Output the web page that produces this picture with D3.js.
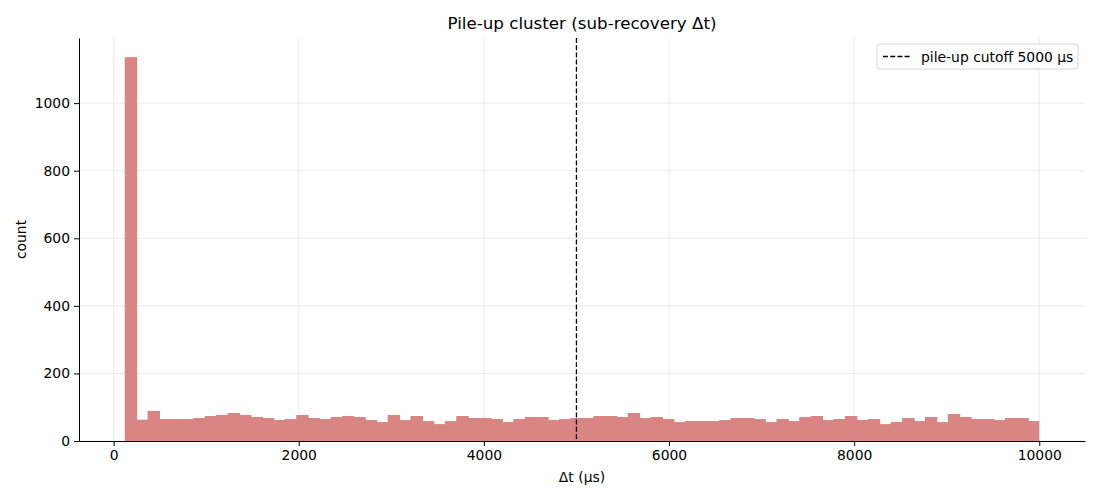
<!DOCTYPE html>
<html>
<head>
<meta charset="utf-8">
<script src="https://cdn.jsdelivr.net/npm/d3@7"></script>
<style>
  body { margin: 0; background: #fff; }
  svg { font-family: "DejaVu Sans", sans-serif; }
</style>
</head>
<body>
<svg id="chart" width="1100" height="500"></svg>
<script>
// histogram of sub-recovery intervals, 80 equal bins
const binMin = 120;
const binMax = 10000;
const counts = [
  1136, 63, 89, 65, 65, 65, 68, 74, 77, 83,
  77, 71, 68, 62, 65, 77, 68, 65, 71, 74,
  71, 62, 56, 77, 62, 74, 59, 50, 59, 74,
  68, 68, 65, 56, 65, 71, 71, 62, 65, 68,
  68, 74, 74, 71, 83, 68, 71, 65, 56, 59,
  59, 59, 62, 68, 68, 65, 56, 65, 59, 71,
  74, 62, 65, 74, 62, 65, 50, 56, 68, 59,
  71, 56, 80, 71, 65, 65, 62, 68, 68, 59
];
const xTicks = [0, 2000, 4000, 6000, 8000, 10000];
const yTicks = [0, 200, 400, 600, 800, 1000];
const cutoff = 5000;
const cutoffLabel = "pile-up cutoff 5000 µs";

const margin = { top: 38, right: 15, bottom: 59, left: 79 };
const svg = d3.select("#chart");
const width = +svg.attr("width");
const height = +svg.attr("height");
const innerWidth = width - margin.left - margin.right;
const innerHeight = height - margin.top - margin.bottom;
const g = svg.append("g")
  .attr("transform", `translate(${margin.left},${margin.top})`);

const binW = (binMax - binMin) / counts.length;
const bins = counts.map((c, i) => ({
  x0: binMin + i * binW,
  x1: binMin + (i + 1) * binW,
  count: c,
  last: i === counts.length - 1
}));

// matplotlib-style 5% padding
const padX = (binMax - binMin) * 0.05;
const x = d3.scaleLinear()
  .domain([binMin - padX, binMax + padX])
  .range([0, innerWidth]);
const y = d3.scaleLinear()
  .domain([0, d3.max(counts) * 1.05])
  .range([innerHeight, 0]);

// grid
g.append("g")
  .selectAll("line")
  .data(xTicks)
  .join("line")
  .attr("x1", d => x(d)).attr("x2", d => x(d))
  .attr("y1", 0).attr("y2", innerHeight)
  .attr("stroke", "#b0b0b0").attr("stroke-opacity", 0.3).attr("stroke-width", 0.8);
g.append("g")
  .selectAll("line")
  .data(yTicks)
  .join("line")
  .attr("x1", 0).attr("x2", innerWidth)
  .attr("y1", d => y(d)).attr("y2", d => y(d))
  .attr("stroke", "#b0b0b0").attr("stroke-opacity", 0.3).attr("stroke-width", 0.8);

// bars (overlap by 1px so no seams show)
g.append("g")
  .selectAll("rect")
  .data(bins)
  .join("rect")
  .attr("x", d => x(d.x0))
  .attr("width", d => x(d.x1) - x(d.x0) + (d.last ? 0 : 1))
  .attr("y", d => y(d.count))
  .attr("height", d => y(0) - y(d.count))
  .attr("fill", "#d98583");

// cutoff line
g.append("line")
  .attr("x1", x(cutoff)).attr("x2", x(cutoff))
  .attr("y1", 0).attr("y2", innerHeight)
  .attr("stroke", "#000").attr("stroke-width", 1.3)
  .attr("stroke-dasharray", "5,2.2");

// axes
const xAxis = g.append("g")
  .attr("transform", `translate(0,${innerHeight})`)
  .call(d3.axisBottom(x).tickValues(xTicks).tickFormat(d3.format("d")).tickSizeInner(5).tickSizeOuter(0).tickPadding(4));
const yAxis = g.append("g")
  .call(d3.axisLeft(y).tickValues(yTicks).tickFormat(d3.format("d")).tickSizeInner(5).tickSizeOuter(0).tickPadding(4));
[xAxis, yAxis].forEach(a => {
  a.attr("font-size", 13.9).attr("font-family", "DejaVu Sans");
  a.selectAll("text").attr("fill", "#000");
  a.selectAll("line").attr("stroke", "#000").attr("stroke-width", 1);
  a.select(".domain").attr("stroke", "#000").attr("stroke-width", 1);
});

// labels
svg.append("text")
  .attr("x", margin.left + innerWidth / 2)
  .attr("y", 29)
  .attr("text-anchor", "middle")
  .attr("font-size", 16.7)
  .text("Pile-up cluster (sub-recovery Δt)");
svg.append("text")
  .attr("x", margin.left + innerWidth / 2)
  .attr("y", 482)
  .attr("text-anchor", "middle")
  .attr("font-size", 13.9)
  .text("Δt (µs)");
svg.append("text")
  .attr("transform", `translate(26,${margin.top + innerHeight / 2}) rotate(-90)`)
  .attr("text-anchor", "middle")
  .attr("font-size", 13.9)
  .text("count");

// legend
const lg = svg.append("g").attr("transform", "translate(877,44)");
lg.append("rect")
  .attr("width", 201).attr("height", 25).attr("rx", 3)
  .attr("fill", "#fff").attr("fill-opacity", 0.8)
  .attr("stroke", "#d6d6d6");
lg.append("line")
  .attr("x1", 6).attr("x2", 34).attr("y1", 12.5).attr("y2", 12.5)
  .attr("stroke", "#000").attr("stroke-width", 1.3)
  .attr("stroke-dasharray", "5,2.2");
lg.append("text")
  .attr("x", 44).attr("y", 17.5)
  .attr("font-size", 13.9)
  .text(cutoffLabel);
</script>
</body>
</html>
